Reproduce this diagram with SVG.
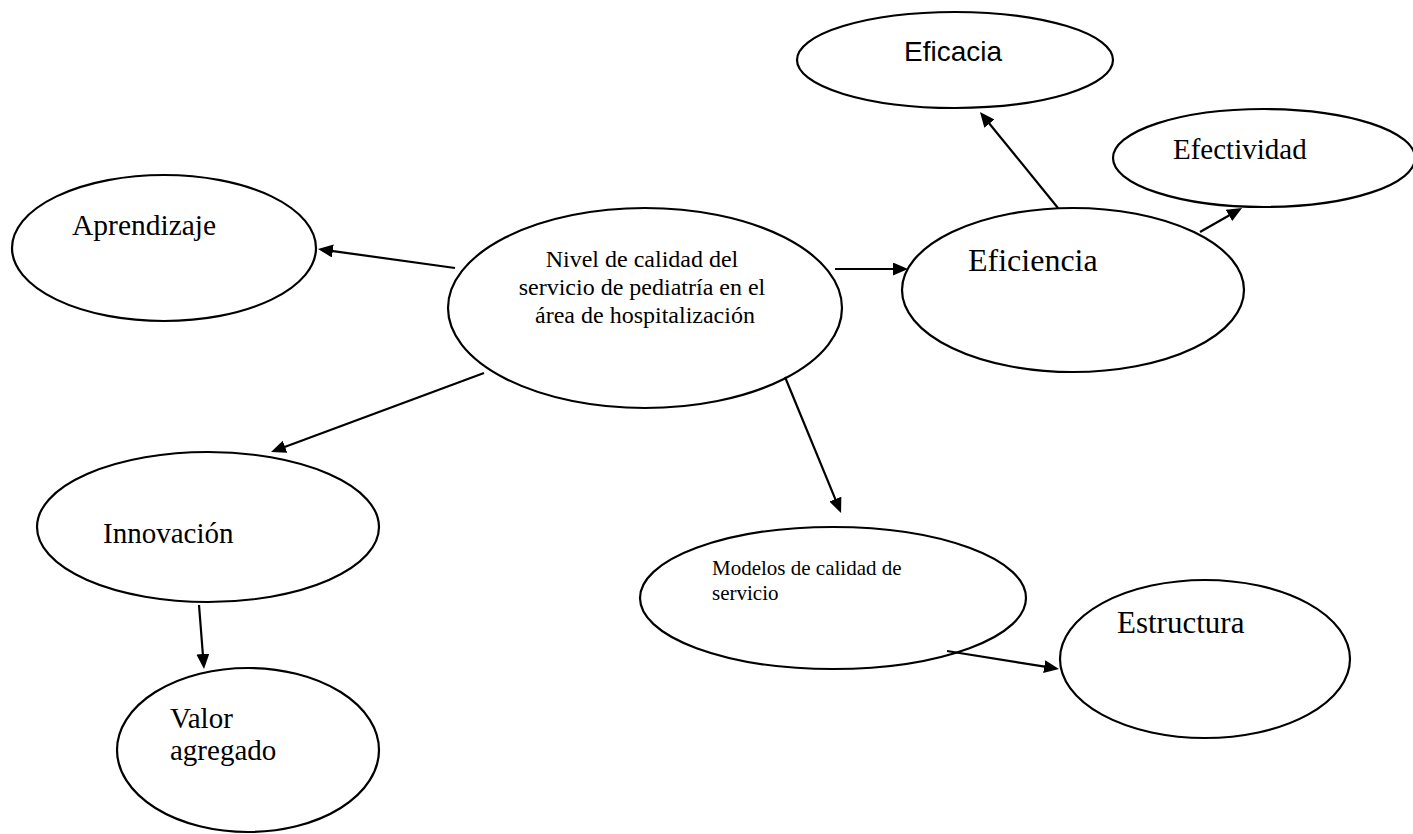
<svg xmlns="http://www.w3.org/2000/svg" width="1413" height="834" viewBox="0 0 1413 834">
  <style>
    .node ellipse { fill: #ffffff; stroke: #000000; stroke-width: 2.2; }
    .serif { font-family: "Liberation Serif", "Times New Roman", serif; fill: #000000; }
    .sans { font-family: "Liberation Sans", Arial, sans-serif; fill: #000000; }
    .link { fill: none; stroke: #000000; stroke-width: 2.2; marker-end: url(#arrow); }
  </style>
  <defs>
    <marker id="arrow" markerUnits="userSpaceOnUse" markerWidth="16" markerHeight="14" refX="7" refY="6.5" orient="auto">
      <path d="M0,0 L15,6.5 L0,13 z" fill="#000000"/>
    </marker>
  </defs>
  <rect width="1413" height="834" fill="#ffffff"/>

  <g id="node-aprendizaje" class="node">
    <ellipse cx="164" cy="248" rx="152" ry="73"/>
    <text class="serif" x="72" y="235" font-size="29.5">Aprendizaje</text>
  </g>

  <g id="node-nivel-calidad" class="node">
    <ellipse cx="645" cy="308" rx="197" ry="100"/>
    <text class="serif" font-size="24" text-anchor="middle">
      <tspan x="645" y="267">Nivel de calidad del</tspan>
      <tspan x="645" y="295">servicio de pediatría en el</tspan>
      <tspan x="645" y="323">área de hospitalización</tspan>
    </text>
  </g>

  <g id="node-eficacia" class="node">
    <ellipse cx="955" cy="60" rx="158" ry="48"/>
    <text class="sans" x="904" y="61" font-size="28">Eficacia</text>
  </g>

  <g id="node-efectividad" class="node">
    <ellipse cx="1264" cy="158" rx="151" ry="49"/>
    <text class="serif" x="1173" y="159" font-size="29">Efectividad</text>
  </g>

  <g id="node-eficiencia" class="node">
    <ellipse cx="1073" cy="290" rx="171" ry="82"/>
    <text class="serif" x="968" y="271" font-size="32">Eficiencia</text>
  </g>

  <g id="node-innovacion" class="node">
    <ellipse cx="208" cy="527" rx="171" ry="75"/>
    <text class="serif" x="103" y="543" font-size="29">Innovación</text>
  </g>

  <g id="node-modelos" class="node">
    <ellipse cx="833" cy="598" rx="193" ry="71"/>
    <text class="serif" font-size="21">
      <tspan x="712" y="575">Modelos de calidad de</tspan>
      <tspan x="712" y="600">servicio</tspan>
    </text>
  </g>

  <g id="node-estructura" class="node">
    <ellipse cx="1205" cy="659" rx="145" ry="79"/>
    <text class="serif" x="1117" y="633" font-size="31">Estructura</text>
  </g>

  <g id="node-valor-agregado" class="node">
    <ellipse cx="248" cy="750" rx="131" ry="82"/>
    <text class="serif" font-size="29">
      <tspan x="170" y="728">Valor</tspan>
      <tspan x="170" y="760">agregado</tspan>
    </text>
  </g>

  <g id="connectors">
    <path class="link" d="M455,268 L325.9,250.1"/>
    <path class="link" d="M835,269 L900,269"/>
    <path class="link" d="M1058,208 L985,118.2"/>
    <path class="link" d="M1200,232 L1235.1,212"/>
    <path class="link" d="M484,373 L278.5,449.2"/>
    <path class="link" d="M199,605 L203.4,661"/>
    <path class="link" d="M785,377 L838,505.6"/>
    <path class="link" d="M947,651 L1051.1,667.7"/>
  </g>
</svg>
